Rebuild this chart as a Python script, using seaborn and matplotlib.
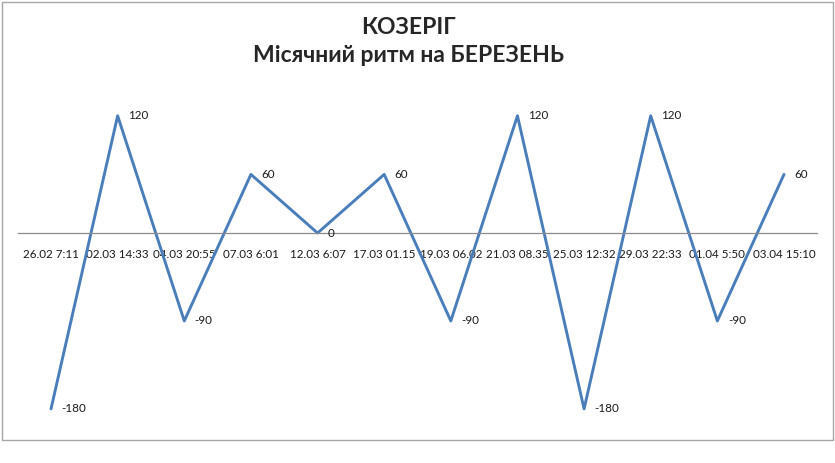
import numpy as np
import pandas as pd
import matplotlib
matplotlib.use("Agg")
import matplotlib.pyplot as plt
import seaborn as sns
from matplotlib.patches import Rectangle

# chart data
dates = ["26.02 7:11", "02.03 14:33", "04.03 20:55", "07.03 6:01", "12.03 6:07",
         "17.03 01.15", "19.03 06.02", "21.03 08.35", "25.03 12:32", "29.03 22:33",
         "01.04 5:50", "03.04 15:10"]
rhythm = [-180, 120, -90, 60, 0, 60, -90, 120, -180, 120, -90, 60]
title_lines = ["КОЗЕРІГ", "Місячний ритм на БЕРЕЗЕНЬ"]

df = pd.DataFrame({"pos": np.arange(len(dates)), "value": rhythm})

sns.set_style("white")
plt.rcParams["font.family"] = ["Lato", "Open Sans", "DejaVu Sans"]

fig = plt.figure(figsize=(8.35, 4.63), dpi=100)
ax = fig.add_axes([17.7 / 835, 1 - 428.4 / 463, 799.6 / 835, 341.9 / 463])

sns.lineplot(data=df, x="pos", y="value", ax=ax, color="#4A7EBB", linewidth=2.1)

ax.set_xlim(-0.5, len(dates) - 0.5)
ax.set_ylim(-200, 150)

# category axis crossing at zero
for s in ["top", "right", "left"]:
    ax.spines[s].set_visible(False)
ax.spines["bottom"].set_position(("data", 0))
ax.spines["bottom"].set_color("#8C8C8C")
ax.spines["bottom"].set_linewidth(0.9)
ax.set_xticks(df["pos"])
ax.set_xticklabels(dates, fontsize=8.4, color="#1A1A1A")
ax.tick_params(axis="x", length=0, pad=11.3)
ax.set_yticks([])
ax.set_xlabel("")
ax.set_ylabel("")

# data labels
for p, v in zip(df["pos"], df["value"]):
    ax.annotate(str(v), (p, v), xytext=(7.5, 0), textcoords="offset points",
                ha="left", va="center", fontsize=8.4, color="#1A1A1A")

fig.text(0.489, 1 - 27 / 463, title_lines[0], ha="center", va="center",
         fontsize=16.5, fontweight="bold")
fig.text(0.489, 1 - 55 / 463, title_lines[1], ha="center", va="center",
         fontsize=16.5, fontweight="bold")

# chart border
fig.patches.append(Rectangle((1.5 / 835, 1 - 440 / 463), 831 / 835, 438.5 / 463,
                             transform=fig.transFigure, fill=False,
                             edgecolor="#A6A6A6", linewidth=1.0))

fig.savefig("out.png", dpi=100)
